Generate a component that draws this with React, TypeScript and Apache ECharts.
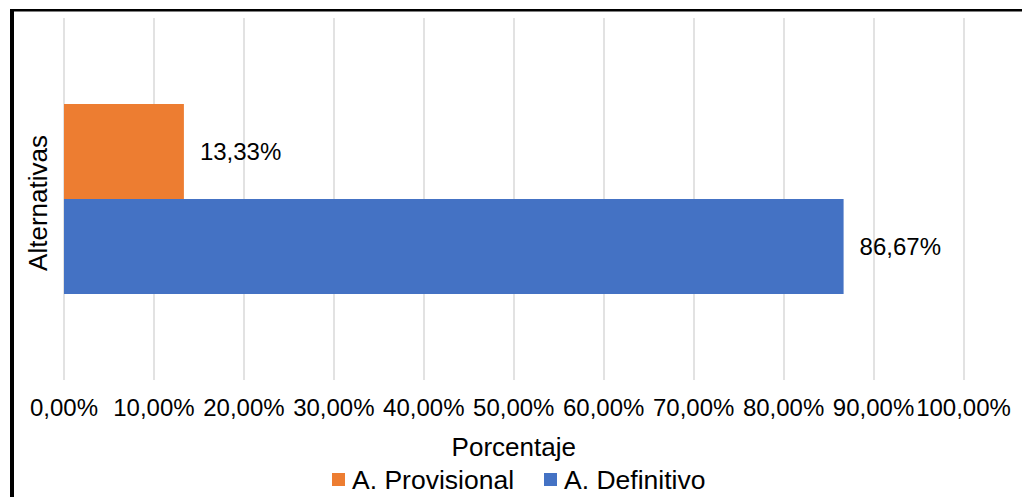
import React, { useEffect, useRef } from "react";
import * as echarts from "echarts";

const categories = ["Alternativas"];
const seriesNames = ["A. Provisional", "A. Definitivo"];
const provisionalValues = [13.33];
const definitivoValues = [86.67];
const seriesColors = ["#ED7D31", "#4472C4"];

const fmt = (v: number) => v.toFixed(2).replace(".", ",") + "%";
const FONT = "'Liberation Sans', Arial, sans-serif";

export default function App() {
  const ref = useRef<HTMLDivElement>(null);
  useEffect(() => {
    if (!ref.current) return;
    const chart = echarts.init(ref.current, undefined, { renderer: "svg" });
    chart.setOption({
      animation: false,
      textStyle: { fontFamily: FONT, color: "#000" },
      grid: { left: 64, right: 58.5, top: 18, bottom: 117, containLabel: false },
      legend: {
        top: 466,
        left: 332,
        padding: 0,
        data: seriesNames,
        icon: "rect",
        itemWidth: 13,
        itemHeight: 13,
        itemGap: 30,
        textStyle: { fontSize: 26.5, color: "#000", fontFamily: FONT, padding: [0, 0, 0, 2] },
      },
      xAxis: {
        type: "value",
        min: 0,
        max: 100,
        interval: 10,
        name: "Porcentaje",
        nameLocation: "middle",
        nameGap: 54,
        nameTextStyle: { fontSize: 26, color: "#000", fontFamily: FONT },
        axisLine: { show: false },
        axisTick: { show: false },
        axisLabel: { fontSize: 24, color: "#000", margin: 15, formatter: (v: number) => fmt(v), fontFamily: FONT },
        splitLine: { show: true, lineStyle: { color: "#d9d9d9", width: 1.5 } },
      },
      yAxis: {
        type: "category",
        data: categories,
        name: "Alternativas",
        nameLocation: "middle",
        nameGap: 13,
        nameRotate: 90,
        nameTextStyle: { fontSize: 26, color: "#000", fontFamily: FONT, padding: [0, 8, 0, 0] },
        axisLine: { show: false },
        axisTick: { show: false },
        axisLabel: { show: false },
        splitLine: { show: false },
      },
      series: [
        {
          name: seriesNames[0],
          type: "bar",
          data: provisionalValues,
          barWidth: 95,
          barGap: "0%",
          itemStyle: { color: seriesColors[0] },
          label: { show: true, position: "right", distance: 16, fontSize: 24, color: "#000", fontFamily: FONT, formatter: (p: any) => fmt(p.value) },
        },
        {
          name: seriesNames[1],
          type: "bar",
          data: definitivoValues,
          barWidth: 95,
          barGap: "0%",
          itemStyle: { color: seriesColors[1] },
          label: { show: true, position: "right", distance: 16, fontSize: 24, color: "#000", fontFamily: FONT, formatter: (p: any) => fmt(p.value) },
        },
      ],
      graphic: [
        { type: "rect", left: 10, top: 9, shape: { width: 4, height: 488 }, style: { fill: "#000" }, silent: true },
        { type: "rect", left: 10, top: 9, shape: { width: 1012, height: 2.5 }, style: { fill: "#000" }, silent: true },
      ],
    });
    return () => chart.dispose();
  }, []);
  return (
    <div
      ref={ref}
      style={{ position: "fixed", left: 0, top: 0, width: 1022, height: 497, background: "#fff" }}
    />
  );
}
